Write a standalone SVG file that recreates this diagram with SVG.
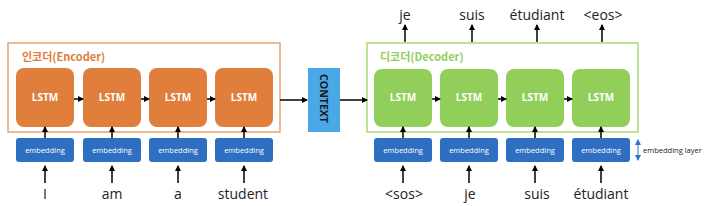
<svg xmlns="http://www.w3.org/2000/svg" width="709" height="206" viewBox="0 0 709 206">
<defs>
<marker id="ah" markerWidth="6" markerHeight="6" refX="5" refY="3" orient="auto" markerUnits="userSpaceOnUse"><path d="M0,0 L6,3 L0,6 z" fill="#000"/></marker>
<marker id="bh" markerWidth="6" markerHeight="6" refX="5" refY="3" orient="auto-start-reverse" markerUnits="userSpaceOnUse"><path d="M0,0 L6,3 L0,6 z" fill="#2E75C8"/></marker>
</defs>
<style>
.word{font-family:"Open Sans","Liberation Sans","Noto Sans CJK KR",sans-serif;font-size:14px;fill:#222;text-anchor:middle}
.lstm{font-family:"Open Sans","Liberation Sans",sans-serif;font-size:10px;font-weight:bold;fill:#fff;text-anchor:middle}
.emb{font-family:"Open Sans","Liberation Sans",sans-serif;font-size:7.5px;fill:#fff;text-anchor:middle}
.enc{fill:#E07E3C}
.dec{fill:#92CF5A}
.embbox{fill:#2F6FC1}
.conn line{stroke:#000;stroke-width:1.5;marker-end:url(#ah)}
.title{font-family:"Noto Sans CJK KR","Open Sans",sans-serif;font-size:11px;font-weight:bold}
</style>
<rect width="709" height="206" fill="#fff"/>
<g id="encoder">
<rect x="8" y="43" width="272" height="89" fill="none" stroke="#E8A474" stroke-width="1.5"/>
<text class="title" x="22" y="61" fill="#E07E3C">인코더(Encoder)</text>
</g>
<g id="decoder">
<rect x="367" y="43" width="271" height="89" fill="none" stroke="#A9D97A" stroke-width="1.5"/>
<text class="title" x="380" y="61" fill="#92CF5A">디코더(Decoder)</text>
</g>
<g id="enc-lstm1"><rect class="enc" x="16" y="68" width="58" height="59" rx="8"/><text class="lstm" x="45" y="101">LSTM</text></g>
<g id="enc-lstm2"><rect class="enc" x="83" y="68" width="58" height="59" rx="8"/><text class="lstm" x="112" y="101">LSTM</text></g>
<g id="enc-lstm3"><rect class="enc" x="149" y="68" width="58" height="59" rx="8"/><text class="lstm" x="178" y="101">LSTM</text></g>
<g id="enc-lstm4"><rect class="enc" x="215" y="68" width="58" height="59" rx="8"/><text class="lstm" x="244" y="101">LSTM</text></g>
<g id="context"><rect x="308" y="68" width="32" height="64" fill="#4BA8E6"/><text x="0" y="0" transform="translate(320,98.5) rotate(90)" font-family="Open Sans,Liberation Sans,sans-serif" font-size="10.5" font-weight="bold" fill="#1a1a1a" text-anchor="middle" textLength="49" lengthAdjust="spacingAndGlyphs">CONTEXT</text></g>
<g id="dec-lstm1"><rect class="dec" x="374" y="69" width="58" height="58" rx="8"/><text class="lstm" x="403" y="101">LSTM</text></g>
<g id="dec-lstm2"><rect class="dec" x="440" y="69" width="58" height="58" rx="8"/><text class="lstm" x="469" y="101">LSTM</text></g>
<g id="dec-lstm3"><rect class="dec" x="506" y="69" width="58" height="58" rx="8"/><text class="lstm" x="535" y="101">LSTM</text></g>
<g id="dec-lstm4"><rect class="dec" x="572" y="69" width="58" height="58" rx="8"/><text class="lstm" x="601" y="101">LSTM</text></g>
<g id="enc-emb">
<rect class="embbox" x="16" y="138" width="58" height="24" rx="3"/><text class="emb" x="45" y="153">embedding</text>
<rect class="embbox" x="83" y="138" width="58" height="24" rx="3"/><text class="emb" x="112" y="153">embedding</text>
<rect class="embbox" x="149" y="138" width="58" height="24" rx="3"/><text class="emb" x="178" y="153">embedding</text>
<rect class="embbox" x="215" y="138" width="58" height="24" rx="3"/><text class="emb" x="244" y="153">embedding</text>
</g>
<g id="dec-emb">
<rect class="embbox" x="374" y="138" width="58" height="24" rx="3"/><text class="emb" x="403" y="153">embedding</text>
<rect class="embbox" x="440" y="138" width="58" height="24" rx="3"/><text class="emb" x="469" y="153">embedding</text>
<rect class="embbox" x="506" y="138" width="58" height="24" rx="3"/><text class="emb" x="535" y="153">embedding</text>
<rect class="embbox" x="572" y="138" width="58" height="24" rx="3"/><text class="emb" x="601" y="153">embedding</text>
</g>
<g id="words">
<text class="word" x="45" y="199">I</text>
<text class="word" x="112" y="199">am</text>
<text class="word" x="178" y="199">a</text>
<text class="word" x="243" y="199">student</text>
<text class="word" x="404" y="199">&lt;sos&gt;</text>
<text class="word" x="470" y="199">je</text>
<text class="word" x="537" y="199">suis</text>
<text class="word" x="601" y="199">étudiant</text>
<text class="word" x="405" y="20">je</text>
<text class="word" x="472" y="20">suis</text>
<text class="word" x="537" y="20">étudiant</text>
<text class="word" x="603" y="20">&lt;eos&gt;</text>
</g>
<g id="annotation">
<line x1="638" y1="140" x2="638" y2="160" stroke="#2E75C8" stroke-width="1" marker-start="url(#bh)" marker-end="url(#bh)"/>
<text x="643" y="153" font-family="Open Sans,Liberation Sans,sans-serif" font-size="7.5" fill="#222">embedding layer</text>
</g>
<g class="conn" id="connectors">
<line x1="74" y1="99" x2="83" y2="99"/>
<line x1="141" y1="99" x2="149" y2="99"/>
<line x1="207" y1="99" x2="215" y2="99"/>
<line x1="280" y1="100" x2="307" y2="100"/>
<line x1="340" y1="100" x2="367" y2="100"/>
<line x1="432" y1="99" x2="440" y2="99"/>
<line x1="498" y1="99" x2="506" y2="99"/>
<line x1="564" y1="99" x2="572" y2="99"/>
<line x1="45" y1="138" x2="45" y2="127"/>
<line x1="112" y1="138" x2="112" y2="127"/>
<line x1="178" y1="138" x2="178" y2="127"/>
<line x1="244" y1="138" x2="244" y2="127"/>
<line x1="403" y1="138" x2="403" y2="127"/>
<line x1="469" y1="138" x2="469" y2="127"/>
<line x1="535" y1="138" x2="535" y2="127"/>
<line x1="601" y1="138" x2="601" y2="127"/>
<line x1="45" y1="183" x2="45" y2="166"/>
<line x1="112" y1="183" x2="112" y2="166"/>
<line x1="178" y1="183" x2="178" y2="166"/>
<line x1="244" y1="183" x2="244" y2="166"/>
<line x1="403" y1="183" x2="403" y2="166"/>
<line x1="469" y1="183" x2="469" y2="166"/>
<line x1="535" y1="183" x2="535" y2="166"/>
<line x1="601" y1="183" x2="601" y2="166"/>
<line x1="405" y1="42" x2="405" y2="25"/>
<line x1="472" y1="42" x2="472" y2="25"/>
<line x1="537" y1="42" x2="537" y2="25"/>
<line x1="602" y1="42" x2="602" y2="25"/>
</g>
</svg>
